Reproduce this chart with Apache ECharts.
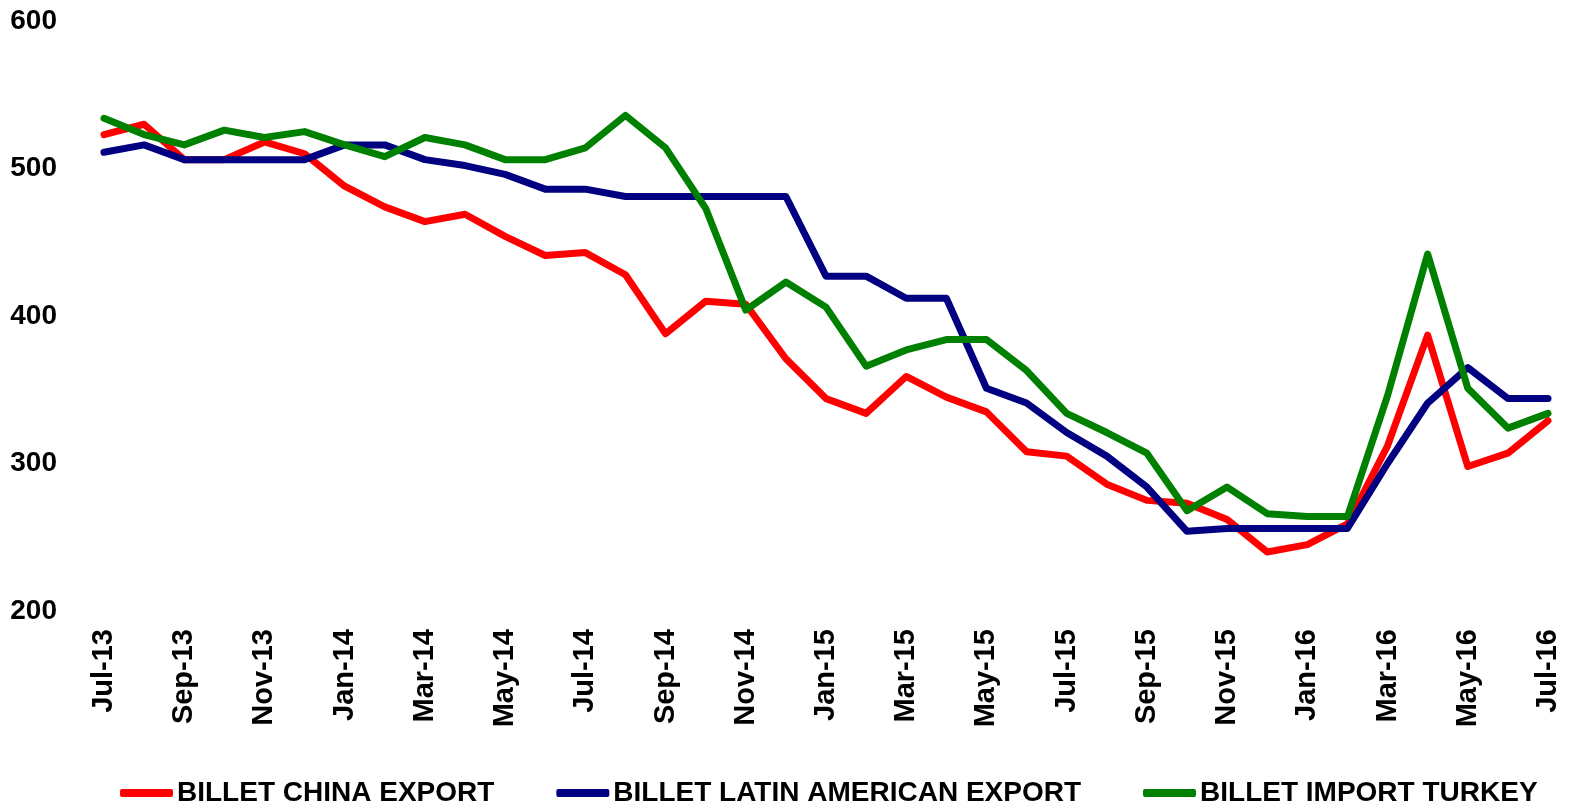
<!DOCTYPE html>
<html>
<head>
<meta charset="utf-8">
<script src="https://cdn.jsdelivr.net/npm/echarts@6/dist/echarts.min.js"></script>
<style>
html,body{margin:0;padding:0;background:#fff;}
#chart{width:1570px;height:806px;}
</style>
</head>
<body>
<div id="chart"></div>
<script>
const categories = ["Jul-13","Aug-13","Sep-13","Oct-13","Nov-13","Dec-13","Jan-14","Feb-14","Mar-14","Apr-14","May-14","Jun-14","Jul-14","Aug-14","Sep-14","Oct-14","Nov-14","Dec-14","Jan-15","Feb-15","Mar-15","Apr-15","May-15","Jun-15","Jul-15","Aug-15","Sep-15","Oct-15","Nov-15","Dec-15","Jan-16","Feb-16","Mar-16","Apr-16","May-16","Jun-16","Jul-16"];
const chinaExport = [523,530,506,506,518,510,488,474,464,469,454,441,443,428,388,410,408,371,344,334,359,345,335,308,305,286,275,273,262,240,245,259,312,387,298,307,329];
const latinExport = [511,516,506,506,506,506,516,516,506,502,496,486,486,481,481,481,481,481,427,427,412,412,351,341,321,305,284,254,256,256,256,256,300,341,365,344,344];
const turkeyImport = [534,523,516,526,521,525,516,508,521,516,506,506,514,536,514,473,404,423,406,366,377,384,384,363,334,321,307,268,284,266,264,264,346,442,351,324,334];
const seriesNames = ["BILLET CHINA EXPORT","BILLET LATIN AMERICAN EXPORT","BILLET IMPORT TURKEY"];
const seriesColors = ["#FF0000","#000080","#008000"];
const yTicks = {min:200, max:600, interval:100};

const chart = echarts.init(document.getElementById('chart'), null, {renderer:'canvas'});
const font = 'Liberation Sans, Arial, sans-serif';
const mk = (name, data, color) => ({
  name, type:'line', data, color,
  symbol:'none', smooth:false,
  lineStyle:{width:7, color, join:'round', cap:'round'},
  emphasis:{disabled:true},
  animation:false
});
chart.setOption({
  animation:false,
  backgroundColor:'#fff',
  grid:{left:104, right:22, top:21, bottom:195, containLabel:false},
  legend:{
    left:115, top:774, itemWidth:53, itemHeight:8, itemGap:62,
    icon:'roundRect',
    data:seriesNames.map((n,i)=>({name:n, itemStyle:{color:seriesColors[i]}})),
    textStyle:{fontFamily:font, fontWeight:'bold', fontSize:28, color:'#000', padding:[0,0,0,-1]}
  },
  xAxis:{
    type:'category', data:categories, boundaryGap:false,
    axisLine:{show:false}, axisTick:{show:false}, splitLine:{show:false},
    axisLabel:{interval:1, rotate:90, margin:18, fontFamily:font, fontWeight:'bold', fontSize:29, color:'#000'}
  },
  yAxis:{
    type:'value', min:yTicks.min, max:yTicks.max, interval:yTicks.interval,
    axisLine:{show:false}, axisTick:{show:false}, splitLine:{show:false},
    axisLabel:{margin:47, fontFamily:font, fontWeight:'bold', fontSize:28, color:'#000'}
  },
  series:[
    mk(seriesNames[0], chinaExport, seriesColors[0]),
    mk(seriesNames[1], latinExport, seriesColors[1]),
    mk(seriesNames[2], turkeyImport, seriesColors[2])
  ]
});
</script>
</body>
</html>
